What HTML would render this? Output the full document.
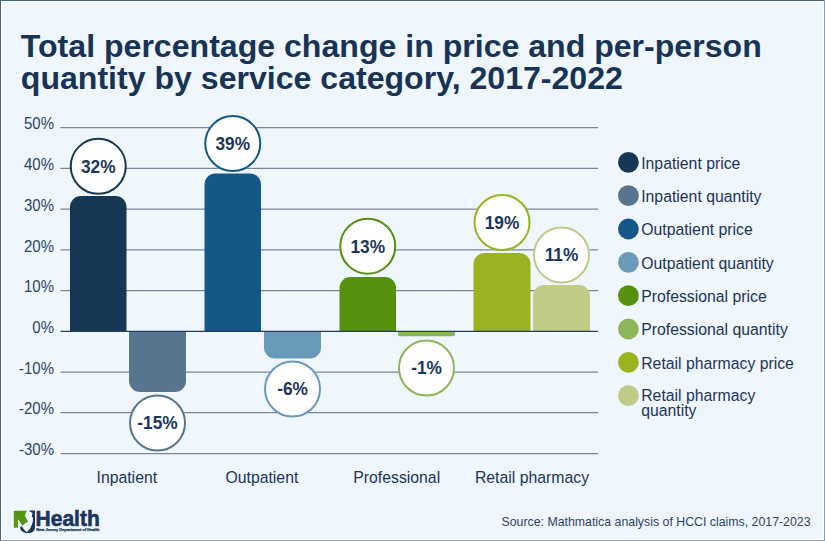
<!DOCTYPE html>
<html><head><meta charset="utf-8">
<style>
html,body{margin:0;padding:0;}
body{width:825px;height:541px;overflow:hidden;background:#f0f6fd;}
svg{display:block;font-family:"Liberation Sans",sans-serif;}
</style></head>
<body>
<svg width="825" height="541" viewBox="0 0 825 541">
<rect x="0" y="0" width="825" height="541" fill="#f0f6fd"/>
<rect x="1.5" y="1.5" width="822" height="538" fill="none" stroke="#ffffff" stroke-width="1"/>
<rect x="0" y="0" width="825" height="1" fill="#4a6584"/>
<rect x="0" y="0" width="1" height="541" fill="#4a6584"/>
<rect x="824" y="0" width="1" height="541" fill="#8a9bb4"/>
<rect x="0" y="540" width="825" height="1" fill="#8c9cb8"/>

<g font-weight="bold" font-size="32.1" fill="#173456">
<text x="20.8" y="56.9">Total percentage change in price and per-person</text>
<text x="20.8" y="88.6">quantity by service category, 2017-2022</text>
</g>
<g stroke="#7886a2" stroke-width="1.25">
<line x1="60.5" y1="127.6" x2="598" y2="127.6"/>
<line x1="60.5" y1="168.4" x2="598" y2="168.4"/>
<line x1="60.5" y1="209.2" x2="598" y2="209.2"/>
<line x1="60.5" y1="249.8" x2="598" y2="249.8"/>
<line x1="60.5" y1="290.5" x2="598" y2="290.5"/>
<line x1="60.5" y1="372.2" x2="598" y2="372.2"/>
<line x1="60.5" y1="412.7" x2="598" y2="412.7"/>
<line x1="60.5" y1="453.5" x2="598" y2="453.5"/>
</g>
<g font-size="15" fill="#2b4568" text-anchor="end">
<text x="54" y="129.5" transform="matrix(1 0 0 1.04 0 -5.180)">50%</text>
<text x="54" y="170.2" transform="matrix(1 0 0 1.04 0 -6.808)">40%</text>
<text x="54" y="210.9" transform="matrix(1 0 0 1.04 0 -8.436)">30%</text>
<text x="54" y="251.6" transform="matrix(1 0 0 1.04 0 -10.064)">20%</text>
<text x="54" y="292.3" transform="matrix(1 0 0 1.04 0 -11.692)">10%</text>
<text x="54" y="333" transform="matrix(1 0 0 1.04 0 -13.320)">0%</text>
<text x="54" y="373.7" transform="matrix(1 0 0 1.04 0 -14.948)">-10%</text>
<text x="54" y="414.4" transform="matrix(1 0 0 1.04 0 -16.576)">-20%</text>
<text x="54" y="455.1" transform="matrix(1 0 0 1.04 0 -18.204)">-30%</text>
</g>
<path d="M70,331.1 V207 A11,11 0 0 1 81,196 H115.5 A11,11 0 0 1 126.5,207 V331.1 Z" fill="#163854"/>
<path d="M129,331.1 V381 A11,11 0 0 0 140,392 H175 A11,11 0 0 0 186,381 V331.1 Z" fill="#57758e"/>
<path d="M204.5,331.1 V184.5 A11,11 0 0 1 215.5,173.5 H250 A11,11 0 0 1 261,184.5 V331.1 Z" fill="#135887"/>
<path d="M264,331.1 V347.5 A11,11 0 0 0 275,358.5 H310 A11,11 0 0 0 321,347.5 V331.1 Z" fill="#699aba"/>
<path d="M339.5,331.1 V288 A11,11 0 0 1 350.5,277 H385 A11,11 0 0 1 396,288 V331.1 Z" fill="#55900e"/>
<path d="M398,331.1 V334.2 A2,2 0 0 0 400,336.2 H453 A2,2 0 0 0 455,334.2 V331.1 Z" fill="#8db65b"/>
<path d="M473.5,331.1 V264 A11,11 0 0 1 484.5,253 H519.5 A11,11 0 0 1 530.5,264 V331.1 Z" fill="#9cb321"/>
<path d="M533,331.1 V296 A11,11 0 0 1 544,285 H579 A11,11 0 0 1 590,296 V331.1 Z" fill="#c1cb88"/>
<line x1="60.5" y1="331.4" x2="598" y2="331.4" stroke="#1f4063" stroke-width="1.2"/>
<g stroke-width="2" fill="#ffffff">
<circle cx="98.25" cy="166.3" r="27.5" stroke="#163854"/>
<circle cx="157.50" cy="423" r="27.5" stroke="#57758e"/>
<circle cx="232.75" cy="143.6" r="27.5" stroke="#135887"/>
<circle cx="292.50" cy="389" r="27.5" stroke="#699aba"/>
<circle cx="367.75" cy="246.2" r="27.5" stroke="#55900e"/>
<circle cx="426.50" cy="368" r="27.5" stroke="#8db65b"/>
<circle cx="502.00" cy="222.5" r="27.5" stroke="#9cb321"/>
<circle cx="561.50" cy="255" r="27.5" stroke="#c1cb88"/>
</g>
<g font-weight="bold" font-size="17.3" fill="#1b365d" text-anchor="middle">
<text x="98.25" y="172.8" transform="matrix(1 0 0 1.04 0 -6.912)">32%</text>
<text x="157.50" y="429.5" transform="matrix(1 0 0 1.04 0 -17.180)">-15%</text>
<text x="232.75" y="150.1" transform="matrix(1 0 0 1.04 0 -6.004)">39%</text>
<text x="292.50" y="395.5" transform="matrix(1 0 0 1.04 0 -15.820)">-6%</text>
<text x="367.75" y="252.7" transform="matrix(1 0 0 1.04 0 -10.108)">13%</text>
<text x="426.50" y="374.5" transform="matrix(1 0 0 1.04 0 -14.980)">-1%</text>
<text x="502.00" y="229.0" transform="matrix(1 0 0 1.04 0 -9.160)">19%</text>
<text x="561.50" y="261.5" transform="matrix(1 0 0 1.04 0 -10.460)">11%</text>
</g>
<g font-size="15.8" fill="#1b3558" text-anchor="middle">
<text x="126.8" y="482.6" transform="matrix(1 0 0 1.04 0 -19.304)">Inpatient</text>
<text x="261.9" y="482.6" transform="matrix(1 0 0 1.04 0 -19.304)">Outpatient</text>
<text x="396.7" y="482.6" transform="matrix(1 0 0 1.04 0 -19.304)">Professional</text>
<text x="532" y="482.6" transform="matrix(1 0 0 1.04 0 -19.304)">Retail pharmacy</text>
</g>
<circle cx="628.4" cy="162.3" r="10.4" fill="#163854"/>
<circle cx="628.4" cy="195.7" r="10.4" fill="#57758e"/>
<circle cx="628.4" cy="229" r="10.4" fill="#135887"/>
<circle cx="628.4" cy="262.4" r="10.4" fill="#699aba"/>
<circle cx="628.4" cy="295.7" r="10.4" fill="#55900e"/>
<circle cx="628.4" cy="329" r="10.4" fill="#8db65b"/>
<circle cx="628.4" cy="362.4" r="10.4" fill="#9cb321"/>
<circle cx="628.4" cy="395.7" r="10.4" fill="#c1cb88"/>
<g font-size="15.8" fill="#1b3558">
<text x="641.2" y="168.7" transform="matrix(1 0 0 1.04 0 -6.748)">Inpatient price</text>
<text x="641.2" y="202.1" transform="matrix(1 0 0 1.04 0 -8.084)">Inpatient quantity</text>
<text x="641.2" y="235.4" transform="matrix(1 0 0 1.04 0 -9.416)">Outpatient price</text>
<text x="641.2" y="268.8" transform="matrix(1 0 0 1.04 0 -10.752)">Outpatient quantity</text>
<text x="641.2" y="302.1" transform="matrix(1 0 0 1.04 0 -12.084)">Professional price</text>
<text x="641.2" y="335.4" transform="matrix(1 0 0 1.04 0 -13.416)">Professional quantity</text>
<text x="641.2" y="368.8" transform="matrix(1 0 0 1.04 0 -14.752)">Retail pharmacy price</text>
<text x="641.2" y="400.7" transform="matrix(1 0 0 1.04 0 -16.028)">Retail pharmacy</text>
<text x="641.2" y="416.1" transform="matrix(1 0 0 1.04 0 -16.644)">quantity</text>
</g>
<g>
<path d="M13.8,510.7 H27.7 L26.9,511.4 L25.6,513.6 L25.4,516.1 L26.6,518.6 L28.3,521.4 L25.2,523.6 L22.6,525.9 L17.9,519 V527.7 H13.8 Z" fill="#539413"/>
<path d="M29.4,510.6 H35 V527 C35,531.2 32.4,533 28.2,533 C23.6,533 20.1,531 20.1,527.2 L22,526 L28,521 L29.4,512 Z" fill="#1b365d"/>
<path d="M26.6,511.2 L30.5,511.8 L32.6,513.3 L31.7,516.2 L32.9,517.7 L32.9,521.6 L31.7,525.1 L29.9,528.7 L27.5,531.6 L26.9,532.2 L26.1,531.6 L24.4,529.9 L22.5,527.5 L21.9,526 L25.2,523.3 L28.1,521.3 L26.3,518.6 L25.2,516.2 L25.8,513.9 Z" fill="#f4f8fd"/>
<text x="35.6" y="525.8" font-weight="bold" font-size="21.5" fill="#1b365d" stroke="#1b365d" stroke-width="0.6" textLength="64.2" lengthAdjust="spacingAndGlyphs">Health</text>
<text x="36.2" y="531" font-weight="bold" font-size="4" fill="#1b365d" stroke="#1b365d" stroke-width="0.25" textLength="63.3" lengthAdjust="spacingAndGlyphs">New Jersey Department of Health</text>
</g>
<text x="501.5" y="525.6" transform="matrix(1 0 0 1.04 0 -21.024)" font-size="12.35" fill="#2b4568">Source: Mathmatica analysis of HCCI claims, 2017-2023</text>
</svg>
</body></html>
